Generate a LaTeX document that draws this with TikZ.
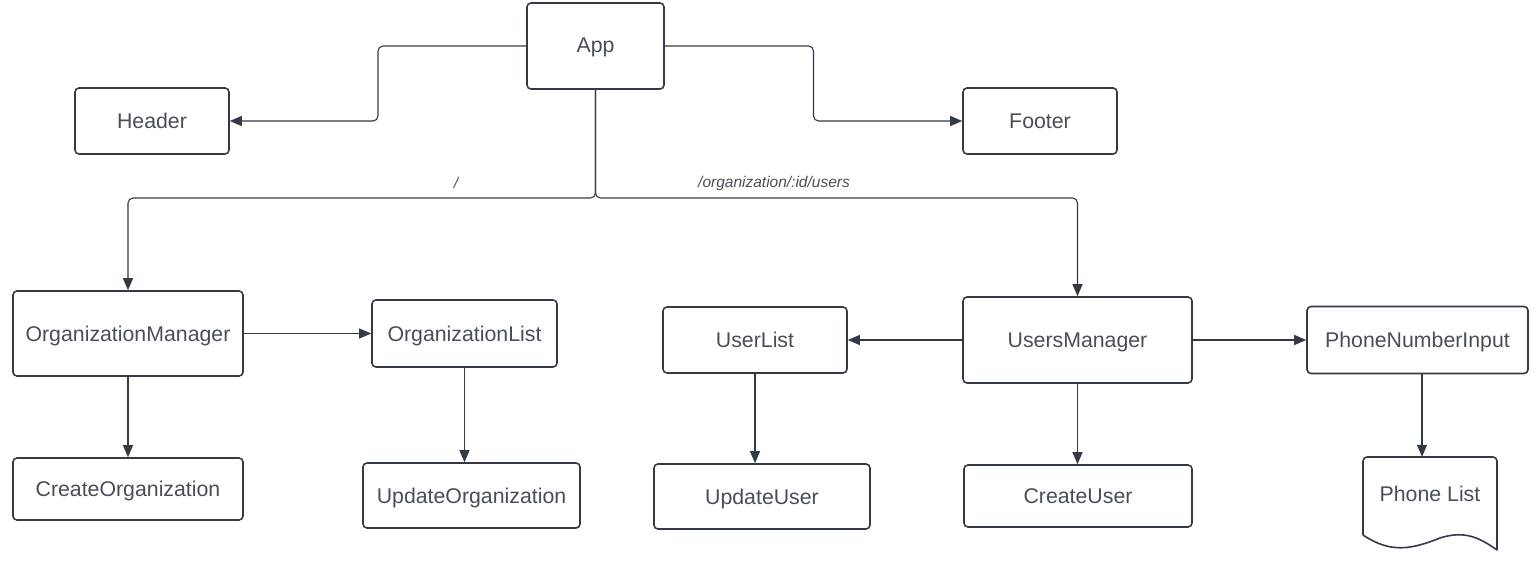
\documentclass[tikz,border=0pt]{standalone}
\usepackage{fontspec}
\setmainfont{Liberation Sans}
\usetikzlibrary{arrows.meta,calc}
\definecolor{edge}{HTML}{333A45}
\definecolor{txt}{HTML}{484E58}
\begin{document}
\begin{tikzpicture}[x=1pt,y=-1pt,
  tx/.style={text=txt,font=\fontsize{21.3}{24}\selectfont,inner sep=0pt,text height=15.2pt,text depth=0pt},
  box/.style={tx,draw=edge,line width=1.6pt,rounded corners=4pt},
  conn/.style={draw=edge,line width=1.1pt,rounded corners=5pt,-{Triangle[length=12pt,width=10pt]}},
  lbl/.style={text=txt,font=\fontsize{15.5}{18}\selectfont\itshape,inner sep=0pt}]
\useasboundingbox (0,0) rectangle (1538,577);
% nodes
\node[box,minimum width=137pt,minimum height=86pt] (App) at (595.5,46) {};
\node[tx] (AppT) at (595.5,44.5) {App};
\node[box,minimum width=154pt,minimum height=66pt] (Header) at (152,121) {Header};
\node[box,minimum width=154pt,minimum height=66pt] (Footer) at (1040,121) {Footer};
\node[box,minimum width=230pt,minimum height=85pt] (OM) at (128,333.5) {OrganizationManager};
\node[box,minimum width=185pt,minimum height=67pt] (OL) at (464.5,333.5) {OrganizationList};
\node[box,minimum width=230pt,minimum height=62pt] (CO) at (128,489) {CreateOrganization};
\node[box,minimum width=217pt,minimum height=65pt] (UO) at (471.5,495.5) {UpdateOrganization};
\node[box,minimum width=184pt,minimum height=66pt] (UL) at (755,340) {UserList};
\node[box,minimum width=229pt,minimum height=86pt] (UM) at (1077.5,340) {UsersManager};
\node[box,minimum width=216pt,minimum height=65pt] (UU) at (762,496.5) {UpdateUser};
\node[box,minimum width=228pt,minimum height=62pt] (CU) at (1078,496) {CreateUser};
\node[box,minimum width=221pt,minimum height=67pt] (PNI) at (1417.5,340) {PhoneNumberInput};
% Phone List document shape
\node[minimum width=134pt,minimum height=93pt,inner sep=0pt] (PL) at (1430,503.5) {};
\node[tx] (PLT) at (1430,494) {Phone List};
\draw[edge,line width=1.6pt,line join=round]
  (1363,535) -- (1363,461) arc[start angle=180,end angle=90,radius=4pt]
  -- (1493,457) arc[start angle=90,end angle=0,radius=4pt] -- (1497,550)
  .. controls (1480,538) and (1465,530) .. (1440,538)
  .. controls (1410,550) and (1390,553) .. (1363,535);
% connectors
\coordinate (split) at (595.5,198);
\coordinate (plin) at ($(PL.north)+(-8,0)$);
\draw[conn] (App.west) -| ($(App.west)!.5!(Header.east)$) |- (Header.east);
\draw[conn] (App.east) -| ($(App.east)!.5!(Footer.west)$) |- (Footer.west);
\draw[conn] (App.south) -- (split) -| (OM.north);
\draw[conn] (App.south) -- (split) -| (UM.north);
\draw[conn] (OM.east |- OL.west) -- (OL.west);
\draw[conn] (OM.south) -- (CO.north);
\draw[conn] (OL.south) -- (OL.south |- UO.north);
\draw[conn] (UM.west |- UL.east) -- (UL.east);
\draw[conn] (UL.south) -- (UL.south |- UU.north);
\draw[conn] (UM.south) -- (UM.south |- CU.north);
\draw[conn] (UM.east |- PNI.west) -- (PNI.west);
\draw[conn] (PNI.south -| plin) -- (plin);
% labels
\node[lbl] (l1) at (456,183) {/};
\node[lbl] (l2) at (774,183) {/organization/:id/users};
\end{tikzpicture}
\end{document}
